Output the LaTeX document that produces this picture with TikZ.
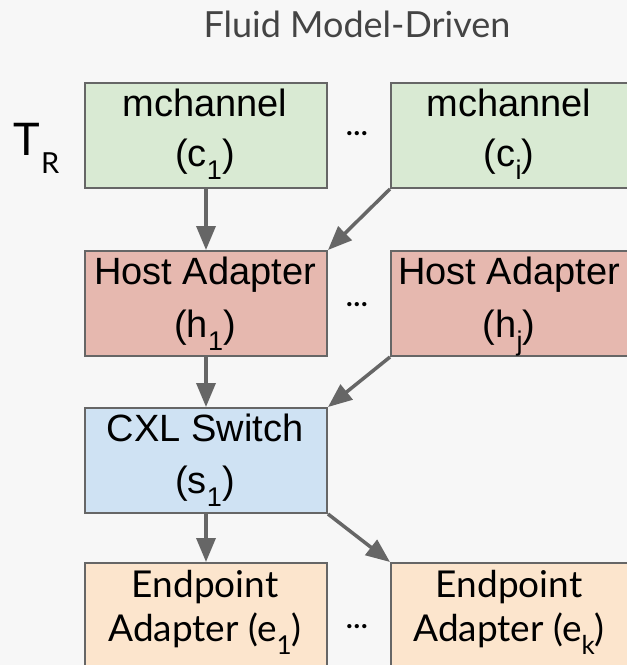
\documentclass[tikz,border=0pt]{standalone}
\usepackage{fontspec}
\setmainfont{Liberation Sans}
\newfontfamily\lato{Lato}
\usetikzlibrary{arrows.meta}
\definecolor{bg}{HTML}{F7F7F7}
\definecolor{edge}{HTML}{666666}
\definecolor{titlegray}{HTML}{444444}
\definecolor{chan}{HTML}{D9EAD3}
\definecolor{host}{HTML}{E6B8AF}
\definecolor{swit}{HTML}{CFE2F3}
\definecolor{endp}{HTML}{FCE5CD}
% lowered subscript used inside the box labels
\newcommand\lowsub[1]{\raisebox{-13pt}{\fontsize{27}{27}\selectfont #1}}
\newcommand\lowsubs[1]{\raisebox{-13pt}{\fontsize{26}{26}\selectfont #1}}

\begin{document}
\begin{tikzpicture}[x=1pt,y=-1pt,
  box/.style={draw=edge, line width=2pt, rectangle, inner sep=0pt,
              anchor=north west, minimum height=105pt},
  leftbox/.style={box, minimum width=242pt},
  rightbox/.style={box, minimum width=250pt},
  lbl/.style={anchor=base, inner sep=0pt, font=\fontsize{38}{38}\selectfont},
  elbl/.style={anchor=base, inner sep=0pt, font=\lato\fontsize{37}{37}\selectfont},
  dots/.style={anchor=base, inner sep=0pt, font=\lato\bfseries\fontsize{28}{28}\selectfont},
  link/.style={draw=edge, line width=3.5pt, -{Triangle[length=24pt,width=19pt]}}
]
\useasboundingbox (0,0) rectangle (627,665);
\clip (0,0) rectangle (627,665);
\fill[bg] (0,0) rectangle (627,665);

% title
\node[anchor=base, inner sep=0pt, text=titlegray, font=\lato\fontsize{36}{36}\selectfont]
  (title) at (357,37) {Fluid Model-Driven};

% T_R marker
\node[anchor=base west, inner sep=0pt, font=\lato\fontsize{45}{45}\selectfont] (trT) at (13,155) {T};
\node[anchor=base west, inner sep=0pt, font=\lato\fontsize{29}{29}\selectfont] (trR) at (41,173) {R};

% boxes
\node[leftbox, fill=chan]  (c1) at (84,82)  {};
\node[rightbox, fill=chan] (ci) at (390,82) {};
\node[leftbox, fill=host]  (h1) at (84,250)  {};
\node[rightbox, fill=host] (hj) at (390,250) {};
\node[leftbox, fill=swit]  (s1) at (84,407) {};
\node[leftbox, fill=endp]  (e1) at (84,562) {};
\node[rightbox, fill=endp] (ek) at (390,562) {};

% labels
\node[lbl] (c1a) at (205,116) {mchannel};
\node[lbl] (c1b) at (205,166) {(c\lowsub{1})};
\node[lbl] (cia) at (509,116) {mchannel};
\node[lbl] (cib) at (509,166) {(c\lowsub{i})};
\node[lbl] (h1a) at (205,284) {Host Adapter};
\node[lbl] (h1b) at (205,337) {(h\lowsub{1})};
\node[lbl] (hja) at (509,284) {Host Adapter};
\node[lbl] (hjb) at (509,337) {(h\lowsub{j})};
\node[lbl] (s1a) at (205,441) {CXL Switch};
\node[lbl] (s1b) at (205,493) {(s\lowsub{1})};
\node[elbl] (e1a) at (205,597) {Endpoint};
\node[elbl] (e1b) at (205,641) {Adapter (e\lowsubs{1})};
\node[elbl] (eka) at (509,597) {Endpoint};
\node[elbl] (ekb) at (509,641) {Adapter (e\lowsubs{k})};

% ellipses between parallel boxes
\node[dots] (d1) at (357,135) {\dots};
\node[dots] (d2) at (357,306) {\dots};
\node[dots] (d3) at (357,628) {\dots};

% connectors
\draw[link] (c1.south) -- (h1.north);
\draw[link] (ci.south west) -- (h1.north east);
\draw[link] (h1.south) -- (s1.north);
\draw[link] (hj.south west) -- (s1.north east);
\draw[link] (s1.south) -- (e1.north);
\draw[link] (s1.south east) -- (ek.north west);
\end{tikzpicture}
\end{document}
